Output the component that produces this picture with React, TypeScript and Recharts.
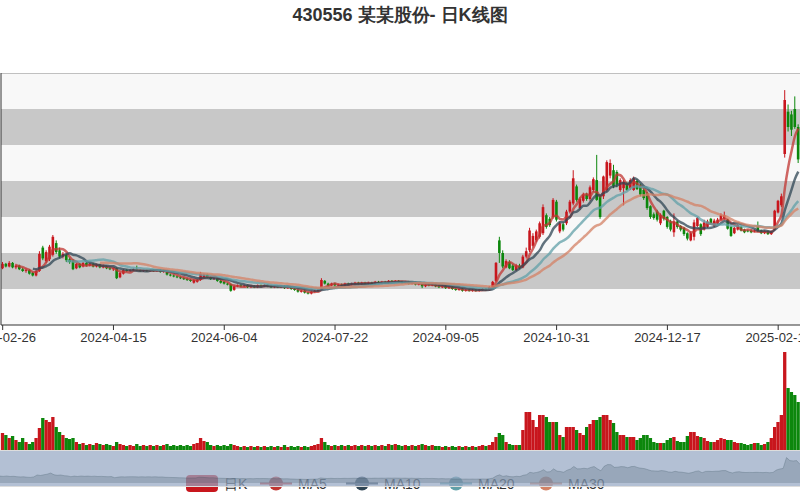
import React from 'react';
import { ComposedChart, AreaChart, Area, Bar, Line, XAxis, YAxis, ReferenceArea, ReferenceLine } from 'recharts';

const titleText = '430556 某某股份- 日K线图';
const tickDates = ['2024-02-26', '2024-04-15', '2024-06-04', '2024-07-22', '2024-09-05', '2024-10-31', '2024-12-17', '2025-02-11'];
const tickEvery = 33;
const priceTicks = [0, 4, 8, 12, 16, 20, 24, 28];

const opens = [
  6.3, 6.8, 6.5, 6.9, 6.4, 6.6, 6.2, 6.0, 6.1, 5.8, 5.5, 6.0, 8.6, 7.1, 7.3, 7.8, 9.1, 8.3, 7.6, 7.8,
  7.3, 7.2, 6.3, 6.8, 6.5, 6.9, 6.6, 6.8, 6.5, 6.7, 6.4, 6.5, 6.3, 6.2, 6.3, 5.3, 5.7, 6.1, 6.0, 6.1,
  6.2, 6.1, 6.0, 6.1, 6.0, 6.1, 6.0, 6.1, 5.9, 5.9, 5.6, 5.5, 5.4, 5.3, 5.2, 5.1, 5.0, 4.7, 4.8, 5.0,
  5.3, 5.6, 5.3, 5.1, 5.2, 4.9, 4.8, 4.6, 4.5, 3.9, 4.3, 4.4, 4.3, 4.4, 4.2, 4.3, 4.2, 4.4, 4.3, 4.4,
  4.3, 4.2, 4.3, 4.2, 4.3, 4.1, 4.2, 4.0, 3.9, 3.7, 3.8, 3.6, 3.5, 3.7, 3.8, 3.9, 4.9, 4.6, 4.4, 4.6,
  4.4, 4.5, 4.4, 4.6, 4.5, 4.6, 4.7, 4.6, 4.7, 4.6, 4.7, 4.6, 4.8, 4.7, 4.8, 4.7, 4.9, 4.8, 4.9, 4.8,
  4.7, 4.8, 4.6, 4.7, 4.5, 4.6, 4.3, 4.5, 4.4, 4.5, 4.3, 4.2, 4.3, 4.1, 4.2, 4.0, 3.9, 4.0, 3.8, 3.9,
  3.8, 3.9, 3.8, 3.9, 4.0, 3.9, 4.2, 4.9, 9.4, 8.0, 6.4, 7.0, 6.6, 6.1, 6.6, 6.4, 7.6, 8.3, 8.8, 9.4,
  9.8, 10.2, 12.2, 11.8, 12.0, 13.7, 10.4, 11.2, 11.3, 12.6, 13.5, 15.4, 13.0, 13.8, 14.5, 14.0, 15.0, 16.1, 14.3, 14.3,
  15.0, 16.6, 17.2, 17.0, 15.0, 15.2, 15.7, 15.2, 15.0, 16.0, 15.5, 15.0, 14.7, 13.2, 12.3, 12.6, 11.3, 12.7, 12.0, 11.5,
  10.3, 11.5, 11.0, 10.8, 10.2, 9.4, 9.8, 11.0, 11.2, 10.6, 10.9, 11.8, 11.0, 11.3, 11.7, 11.8, 11.7, 10.9, 10.2, 10.6,
  10.9, 10.6, 10.5, 10.5, 10.4, 11.0, 10.5, 10.2, 10.4, 10.1, 10.6, 12.5, 13.3, 19.0, 23.7, 23.4, 24.0, 22.0,
];
const closes = [
  6.8, 6.5, 6.9, 6.4, 6.6, 6.2, 6.0, 6.1, 5.7, 5.5, 6.0, 7.9, 7.4, 8.1, 8.7, 9.8, 8.1, 7.6, 7.9, 7.2,
  7.0, 6.2, 6.8, 6.4, 6.9, 6.6, 6.8, 6.5, 6.7, 6.4, 6.5, 6.3, 6.2, 6.3, 5.2, 5.8, 6.1, 6.0, 6.1, 6.2,
  6.1, 6.0, 6.1, 6.0, 6.1, 6.0, 6.1, 5.9, 6.0, 5.6, 5.5, 5.4, 5.3, 5.2, 5.1, 5.0, 4.9, 5.0, 5.0, 5.7,
  5.6, 5.3, 5.1, 5.2, 4.9, 4.7, 4.6, 4.5, 3.8, 4.3, 4.4, 4.3, 4.4, 4.2, 4.3, 4.2, 4.4, 4.3, 4.4, 4.3,
  4.2, 4.3, 4.2, 4.3, 4.1, 4.2, 4.0, 3.9, 3.7, 3.8, 3.6, 3.5, 3.7, 3.8, 3.9, 5.0, 4.6, 4.4, 4.6, 4.4,
  4.5, 4.4, 4.6, 4.5, 4.6, 4.7, 4.6, 4.7, 4.6, 4.7, 4.6, 4.8, 4.7, 4.8, 4.7, 4.9, 4.8, 4.9, 4.8, 4.7,
  4.8, 4.6, 4.7, 4.5, 4.6, 4.3, 4.5, 4.4, 4.5, 4.3, 4.2, 4.3, 4.1, 4.2, 4.0, 3.9, 4.0, 3.8, 3.9, 3.8,
  3.9, 3.8, 3.9, 4.0, 3.9, 4.2, 4.8, 6.9, 8.0, 6.5, 7.1, 6.3, 6.1, 6.6, 6.3, 7.6, 8.2, 10.5, 9.9, 10.4,
  11.3, 13.1, 10.9, 11.1, 13.9, 11.7, 11.3, 10.6, 12.6, 13.7, 16.3, 13.9, 14.0, 14.5, 14.0, 15.3, 16.2, 13.9, 12.0, 16.5,
  18.1, 18.0, 15.4, 15.6, 16.1, 15.9, 15.0, 16.1, 16.3, 15.1, 14.5, 14.1, 13.0, 12.0, 11.9, 11.7, 12.2, 11.8, 10.9, 10.6,
  11.5, 10.9, 10.6, 10.1, 9.6, 10.2, 11.4, 11.9, 10.1, 11.4, 11.5, 11.3, 11.6, 11.7, 12.2, 12.2, 10.7, 9.9, 10.8, 11.1,
  10.5, 10.3, 10.4, 10.3, 10.5, 10.4, 10.2, 10.4, 10.1, 10.4, 12.7, 13.8, 14.3, 25.0, 22.0, 21.7, 22.0, 18.4,
];
const lows = [
  6.2, 6.4, 6.4, 6.3, 6.2, 6.1, 5.9, 5.8, 5.6, 5.4, 5.4, 5.9, 7.2, 6.9, 7.1, 7.6, 7.9, 7.4, 7.4, 7.0,
  6.8, 6.1, 6.2, 6.3, 6.4, 6.5, 6.5, 6.4, 6.4, 6.3, 6.3, 6.2, 6.1, 6.0, 5.1, 5.2, 5.6, 5.9, 5.9, 6.0,
  6.0, 5.9, 5.9, 5.9, 5.9, 5.9, 5.9, 5.8, 5.8, 5.5, 5.4, 5.3, 5.2, 5.1, 5.0, 4.9, 4.8, 4.6, 4.7, 4.9,
  5.2, 5.2, 5.0, 5.0, 4.8, 4.6, 4.5, 4.4, 3.7, 3.8, 4.2, 4.2, 4.2, 4.1, 4.1, 4.1, 4.1, 4.2, 4.2, 4.2,
  4.1, 4.1, 4.1, 4.1, 4.0, 4.0, 3.9, 3.8, 3.6, 3.6, 3.5, 3.4, 3.4, 3.6, 3.7, 3.9, 4.5, 4.3, 4.3, 4.3,
  4.3, 4.3, 4.3, 4.4, 4.4, 4.5, 4.5, 4.5, 4.5, 4.5, 4.5, 4.5, 4.6, 4.6, 4.6, 4.6, 4.7, 4.7, 4.7, 4.6,
  4.6, 4.5, 4.5, 4.4, 4.4, 4.1, 4.2, 4.3, 4.3, 4.2, 4.1, 4.1, 4.0, 4.0, 3.9, 3.8, 3.8, 3.7, 3.7, 3.7,
  3.7, 3.7, 3.7, 3.8, 3.8, 3.8, 4.1, 4.8, 6.9, 6.3, 6.3, 6.2, 6.0, 6.0, 6.2, 6.3, 7.4, 8.1, 8.6, 9.2,
  9.6, 10.0, 10.7, 10.9, 11.8, 11.5, 10.2, 10.4, 11.1, 12.4, 13.3, 13.7, 12.8, 13.6, 13.8, 13.8, 14.8, 13.8, 11.8, 14.0,
  14.8, 16.3, 15.2, 15.3, 14.8, 13.3, 14.9, 15.0, 14.9, 15.0, 14.3, 13.9, 12.8, 11.8, 11.7, 11.5, 11.1, 11.6, 10.7, 10.4,
  9.8, 10.7, 10.4, 9.9, 9.4, 9.3, 9.4, 10.9, 9.9, 10.5, 10.8, 11.2, 10.9, 11.2, 11.6, 11.7, 10.6, 9.8, 10.1, 10.5,
  10.4, 10.2, 10.3, 10.2, 10.3, 10.3, 10.1, 10.1, 10.0, 10.0, 10.5, 12.4, 13.1, 18.6, 21.5, 21.0, 21.8, 18.0,
];
const highs = [
  7.0, 6.9, 7.1, 7.0, 6.8, 6.7, 6.4, 6.3, 6.2, 5.9, 6.2, 8.2, 8.8, 8.3, 8.9, 10.0, 9.4, 8.6, 8.1, 7.9,
  7.5, 7.3, 6.9, 6.9, 7.0, 7.0, 6.9, 6.9, 6.8, 6.8, 6.7, 6.6, 6.4, 6.4, 6.4, 5.9, 6.2, 6.2, 6.2, 6.3,
  6.6, 6.2, 6.2, 6.2, 6.2, 6.2, 6.2, 6.2, 6.1, 6.0, 5.7, 5.6, 5.5, 5.4, 5.3, 5.2, 5.1, 5.1, 5.1, 5.9,
  5.7, 5.7, 5.4, 5.3, 5.3, 5.0, 4.9, 4.7, 4.6, 4.4, 4.5, 4.5, 4.5, 4.5, 4.4, 4.4, 4.5, 4.5, 4.5, 4.5,
  4.4, 4.4, 4.4, 4.4, 4.4, 4.3, 4.3, 4.1, 4.0, 3.9, 3.9, 3.7, 3.8, 3.9, 4.0, 5.2, 5.0, 4.7, 4.7, 4.7,
  4.6, 4.6, 4.7, 4.7, 4.7, 4.8, 4.8, 4.8, 4.8, 4.8, 4.8, 4.9, 4.9, 4.9, 4.9, 5.0, 5.0, 5.0, 5.0, 4.9,
  4.9, 4.9, 4.8, 4.8, 4.7, 4.7, 4.6, 4.6, 4.6, 4.6, 4.4, 4.4, 4.4, 4.3, 4.3, 4.1, 4.1, 4.1, 4.0, 4.0,
  4.0, 4.0, 4.0, 4.1, 4.1, 4.3, 4.9, 7.0, 9.8, 8.3, 7.3, 7.2, 6.8, 6.8, 6.8, 7.8, 8.6, 10.8, 10.2, 10.6,
  11.5, 13.4, 12.4, 12.0, 14.1, 13.9, 11.5, 11.4, 12.8, 13.9, 17.2, 15.6, 14.2, 14.7, 14.7, 15.5, 16.4, 18.9, 14.4, 16.6,
  18.3, 18.4, 17.8, 17.2, 16.3, 16.1, 15.9, 16.3, 16.5, 16.2, 15.7, 15.2, 14.8, 13.3, 12.5, 12.8, 12.4, 12.8, 12.1, 11.7,
  12.4, 11.6, 11.1, 10.9, 10.3, 10.4, 11.7, 12.0, 11.3, 11.7, 11.7, 11.9, 11.8, 11.9, 12.4, 12.6, 11.8, 11.0, 10.9, 11.2,
  11.0, 10.7, 10.6, 10.6, 10.6, 11.5, 10.6, 10.5, 10.5, 10.5, 12.8, 13.9, 14.6, 26.1, 24.5, 23.8, 25.4, 22.3,
];
const volumes = [
  17, 15, 12, 14, 10, 8, 12, 8, 6, 8, 12, 22, 32, 30, 28, 33, 23, 18, 15, 12,
  11, 12, 8, 6, 7, 5, 6, 5, 7, 6, 5, 6, 5, 4, 8, 6, 5, 4, 5, 4,
  6, 4, 5, 4, 5, 4, 5, 4, 5, 6, 4, 5, 4, 5, 4, 5, 4, 6, 7, 12,
  9, 8, 5, 4, 5, 4, 5, 4, 6, 5, 4, 3, 4, 3, 4, 3, 4, 3, 4, 3,
  4, 3, 4, 3, 5, 3, 4, 3, 4, 3, 4, 3, 4, 5, 6, 12, 8, 5, 4, 5,
  4, 5, 4, 5, 4, 5, 4, 5, 4, 5, 4, 5, 4, 5, 4, 6, 5, 6, 5, 4,
  5, 4, 5, 4, 5, 6, 5, 4, 5, 4, 4, 3, 4, 3, 4, 3, 4, 3, 4, 3,
  4, 3, 4, 5, 4, 5, 8, 13, 17, 15, 8, 6, 5, 5, 5, 20, 38, 38, 30, 23,
  35, 35, 33, 28, 28, 28, 15, 13, 23, 23, 23, 20, 17, 15, 23, 26, 30, 30, 33, 35,
  35, 30, 27, 18, 15, 15, 13, 13, 13, 10, 12, 15, 15, 12, 8, 7, 7, 7, 10, 12,
  13, 9, 8, 8, 14, 18, 18, 14, 13, 12, 9, 8, 8, 10, 12, 11, 10, 10, 8, 7,
  7, 6, 5, 6, 7, 7, 5, 6, 8, 12, 23, 28, 35, 98, 62, 58, 55, 48,
];

const maPeriods = [5, 10, 20, 30];
const maNames = ['MA5', 'MA10', 'MA20', 'MA30'];
const maColors = ['#c23531', '#2f4554', '#61a0a8', '#d48265'];
const UP = '#c8161d';
const DOWN = '#0c870c';
const BAND_LIGHT = '#f8f8f8';
const BAND_DARK = '#c8c8c8';

const movingAverage = (n: number) =>
  closes.map((_, i) => {
    if (i < n - 1) return null;
    let s = 0;
    for (let k = i - n + 1; k <= i; k++) s += closes[k];
    return +(s / n).toFixed(3);
  });
const maSeries = maPeriods.map((n) => movingAverage(n));

const data = closes.map((c, i) => {
  const row: any = { idx: i, open: opens[i], close: c, low: lows[i], high: highs[i], vol: volumes[i] };
  maPeriods.forEach((n, k) => {
    row['ma' + n] = maSeries[k][i];
  });
  return row;
});

const closeMin = Math.min(...closes);
const closeMax = Math.max(...closes);
const shadowPad = (closeMax - closeMin) * 0.3;

const Candle = (props: any) => {
  const { x, y, width, height, payload } = props;
  if (x == null || y == null || !payload) return <g />;
  const { open, close, low, high } = payload;
  const color = close >= open ? UP : DOWN;
  const top = Math.min(y, y + height);
  const h = Math.abs(height);
  const span = high - low;
  const yAt = (v: number) => (span === 0 ? top : top + ((high - v) / span) * h);
  const cx = x + width / 2;
  const bTop = yAt(Math.max(open, close));
  const bBot = yAt(Math.min(open, close));
  const bw = 2.6;
  return (
    <g>
      <line x1={cx} x2={cx} y1={top} y2={top + h} stroke={color} strokeWidth={1} />
      <rect x={cx - bw / 2} y={bTop} width={bw} height={Math.max(bBot - bTop, 1)} fill={color} />
    </g>
  );
};

const VolBar = (props: any) => {
  const { x, y, width, height, payload } = props;
  if (x == null || y == null || !payload) return <g />;
  const color = payload.close >= payload.open ? UP : DOWN;
  const top = Math.min(y, y + height);
  const cx = x + width / 2;
  const bw = 3.3;
  return <rect x={cx - bw / 2} y={top} width={bw} height={Math.abs(height)} fill={color} />;
};

const legendItems = [
  { name: '日K', color: UP, kind: 'rect', x: 186 },
  { name: maNames[0], color: maColors[0], kind: 'line', x: 260 },
  { name: maNames[1], color: maColors[1], kind: 'line', x: 346 },
  { name: maNames[2], color: maColors[2], kind: 'line', x: 440 },
  { name: maNames[3], color: maColors[3], kind: 'line', x: 530 },
];

export default function App() {
  return (
    <div style={{ position: 'absolute', left: 0, top: 0, width: 800, height: 500, background: '#fff', fontFamily: 'sans-serif' }}>
      <svg width={800} height={40} style={{ position: 'absolute', left: 0, top: 0 }}>
        <text x={400} y={21} textAnchor="middle" fontSize={18} fontWeight="bold" fill="#333" fontFamily="sans-serif">
          {titleText}
        </text>
      </svg>

      <div style={{ position: 'absolute', left: 0, top: 73 }}>
        <ComposedChart width={800} height={277} data={data} margin={{ top: 0, right: 0, bottom: 0, left: 0 }}>
          <XAxis
            dataKey="idx"
            type="category"
            interval={tickEvery - 1}
            height={25}
            tickFormatter={(v: any) => tickDates[Math.round(Number(v) / tickEvery)] ?? ''}
            tick={{ fontSize: 13, fill: '#333', fontFamily: 'sans-serif' }}
            tickSize={5}
            tickMargin={3}
            axisLine={{ stroke: '#333' }}
            tickLine={{ stroke: '#333' }}
          />
          <YAxis
            type="number"
            domain={[priceTicks[0], priceTicks[priceTicks.length - 1]]}
            ticks={priceTicks}
            width={1}
            tick={false}
            tickLine={false}
            axisLine={{ stroke: '#333' }}
            allowDataOverflow
          />
          {priceTicks.slice(0, -1).map((t, k) => (
            <ReferenceArea
              key={'band' + k}
              y1={t}
              y2={priceTicks[k + 1]}
              fill={k % 2 === 0 ? BAND_LIGHT : BAND_DARK}
              fillOpacity={1}
              stroke="none"
              ifOverflow="visible"
            />
          ))}
          <ReferenceLine y={priceTicks[priceTicks.length - 1]} stroke="#888" strokeWidth={1} ifOverflow="visible" />
          <Bar dataKey={(d: any) => [d.low, d.high]} barSize={3} shape={(p: any) => <Candle {...p} />} isAnimationActive={false} />
          {maPeriods.map((n, k) => (
            <Line
              key={'ma' + n}
              dataKey={'ma' + n}
              type="monotone"
              stroke={maColors[k]}
              strokeOpacity={0.75}
              strokeWidth={2.5}
              dot={false}
              activeDot={false}
              connectNulls={false}
              isAnimationActive={false}
            />
          ))}
        </ComposedChart>
      </div>

      <div style={{ position: 'absolute', left: 0, top: 350 }}>
        <ComposedChart width={800} height={100} data={data} margin={{ top: 0, right: 0, bottom: 0, left: 1 }}>
          <XAxis dataKey="idx" type="category" hide />
          <YAxis type="number" domain={[0, 100]} hide />
          <Bar dataKey="vol" barSize={3} shape={(p: any) => <VolBar {...p} />} isAnimationActive={false} />
        </ComposedChart>
      </div>

      <svg width={800} height={30} style={{ position: 'absolute', left: 0, top: 470 }}>
        {legendItems.map((it) => (
          <g key={it.name}>
            {it.kind === 'rect' ? (
              <rect x={it.x} y={5} width={32} height={17} rx={4} fill={it.color} />
            ) : (
              <g>
                <line x1={it.x} x2={it.x + 32} y1={13.5} y2={13.5} stroke={it.color} strokeWidth={2} />
                <circle cx={it.x + 16} cy={13.5} r={7} fill={it.color} />
              </g>
            )}
            <text x={it.x + 38} y={19} fontSize={14} fill="#333" fontFamily="sans-serif">
              {it.name}
            </text>
          </g>
        ))}
      </svg>

      <div
        style={{
          position: 'absolute',
          left: 0,
          top: 450,
          width: 800,
          height: 37,
          background: 'rgba(150,168,196,0.72)',
          borderTop: '1px solid #ddd',
          borderBottom: '1px solid #ddd',
          boxSizing: 'border-box',
        }}
      >
        <AreaChart width={800} height={35} data={data} margin={{ top: 0, right: 0, bottom: 0, left: 0 }}>
          <XAxis dataKey="idx" type="category" hide />
          <YAxis type="number" domain={[closeMin - shadowPad, closeMax + shadowPad]} hide />
          <Area
            dataKey="close"
            type="linear"
            stroke="rgba(47,69,84,0.3)"
            strokeWidth={0.8}
            fill="rgba(47,69,84,0.2)"
            fillOpacity={1}
            dot={false}
            activeDot={false}
            isAnimationActive={false}
          />
        </AreaChart>
      </div>
    </div>
  );
}
